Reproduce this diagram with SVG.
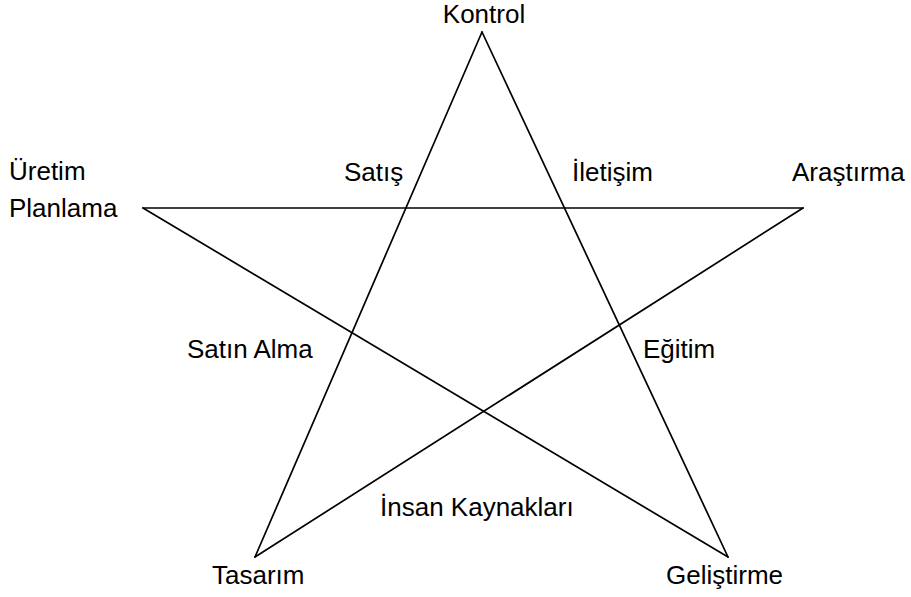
<svg xmlns="http://www.w3.org/2000/svg" width="911" height="597" viewBox="0 0 911 597">
<style>
text{font-family:"Liberation Sans",Arial,sans-serif;font-size:26px;fill:#000}
.c line{stroke:#000;stroke-width:1.7;stroke-linecap:round}
</style>
<rect width="911" height="597" fill="#fff"/>
<g class="c" id="connectors">
<line x1="482" y1="32" x2="255" y2="557"/>
<line x1="482" y1="32" x2="728" y2="557"/>
<line x1="143" y1="208" x2="803" y2="208"/>
<line x1="143" y1="208" x2="728" y2="557"/>
<line x1="803" y1="208" x2="255" y2="557"/>
</g>
<g id="kontrol"><text x="484" y="23" text-anchor="middle">Kontrol</text></g>
<g id="uretim"><text x="9" y="180">Üretim</text><text x="9" y="217">Planlama</text></g>
<g id="arastirma"><text x="792" y="181">Araştırma</text></g>
<g id="satis"><text x="344" y="181">Satış</text></g>
<g id="iletisim"><text x="572" y="181">İletişim</text></g>
<g id="satinalma"><text x="187" y="358">Satın Alma</text></g>
<g id="egitim"><text x="643" y="358">Eğitim</text></g>
<g id="insan"><text x="380" y="516">İnsan Kaynakları</text></g>
<g id="tasarim"><text x="212" y="584">Tasarım</text></g>
<g id="gelistirme"><text x="666" y="584">Geliştirme</text></g>
</svg>
